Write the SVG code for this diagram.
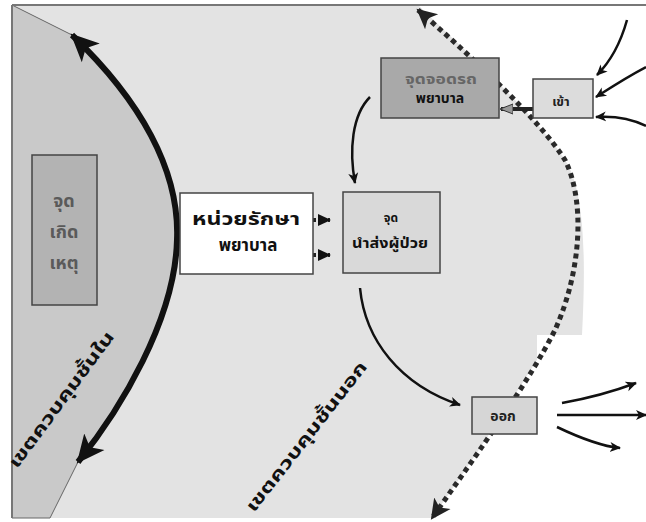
<svg xmlns="http://www.w3.org/2000/svg" width="646" height="522" viewBox="0 0 646 522">
<style>
.th{font-family:"Noto Sans Thai","Noto Sans","DejaVu Sans",sans-serif;font-weight:bold;text-anchor:middle}
.box{stroke:#444;stroke-width:1.5}
.thin{fill:none;stroke:#111;stroke-width:2.5}
.dot{fill:none;stroke:#2a2a2a;stroke-width:5;stroke-dasharray:5 4}
</style>
<defs>
<marker id="big" viewBox="0 0 30 30" refX="26" refY="15" markerWidth="30" markerHeight="30" markerUnits="userSpaceOnUse" orient="auto-start-reverse">
<path d="M0,2 L28,15 L0,28 L7,15 Z" fill="#111"/>
</marker>
<marker id="ah" viewBox="0 0 12 12" refX="10" refY="6" markerWidth="12" markerHeight="12" markerUnits="userSpaceOnUse" orient="auto">
<path d="M0,1 L11,6 L0,11 L3,6 Z" fill="#111"/>
</marker>
<marker id="dh" viewBox="0 0 22 22" refX="18" refY="11" markerWidth="22" markerHeight="22" markerUnits="userSpaceOnUse" orient="auto-start-reverse">
<path d="M0,1 L20,11 L0,21 L5,11 Z" fill="#222"/>
</marker>
<marker id="sq" viewBox="0 0 14 14" refX="12" refY="7" markerWidth="14" markerHeight="14" markerUnits="userSpaceOnUse" orient="auto">
<path d="M0,1 L13,7 L0,13 Z" fill="#111"/>
</marker>
<marker id="gh" viewBox="0 0 14 14" refX="12" refY="7" markerWidth="14" markerHeight="14" markerUnits="userSpaceOnUse" orient="auto">
<path d="M0,2 L13,7 L0,12 Z" fill="#999" stroke="#333" stroke-width="1"/>
</marker>
</defs>
<rect width="646" height="522" fill="#fff"/>
<g id="zones">
<path d="M12,5 L418,5 C470,55 540,120 565,160 C585,190 586,260 582,335 L537,335 L537,360 C515,395 480,450 432,518 L12,518 Z" fill="#e3e3e3"/>
<path d="M12,5 L72,35 C140,100 180,170 177,240 C175,320 120,410 78,462 L50,518 L12,518 Z" fill="#c9c9c9"/>
<path d="M12,5 L72,35 M78,462 L50,518 L12,518" fill="none" stroke="#666" stroke-width="1"/>
<path d="M12,5 L646,5 M12,5 L12,518" fill="none" stroke="#777" stroke-width="2"/>
</g>
<g id="connectors">
<path d="M72,35 C140,100 180,170 177,240 C175,320 120,410 78,462" fill="none" stroke="#111" stroke-width="6" marker-start="url(#big)" marker-end="url(#big)"/>
<path class="dot" d="M418,10 C470,55 540,120 565,160 C585,200 582,270 555,330 C530,380 480,450 432,518" marker-start="url(#dh)" marker-end="url(#dh)"/>
<path class="thin" d="M627,20 C620,45 610,62 597,75" marker-end="url(#ah)"/>
<path class="thin" d="M646,67 C625,78 610,88 596,97" marker-end="url(#ah)"/>
<path class="thin" d="M646,126 C630,118 612,116 596,117" marker-end="url(#ah)"/>
<path d="M533,109 L501,109" fill="none" stroke="#222" stroke-width="4" marker-end="url(#gh)"/>
<path class="thin" d="M370,97 C352,115 349,150 355,183" marker-end="url(#ah)"/>
<path class="thin" d="M360,288 C365,340 400,385 460,405" marker-end="url(#ah)"/>
<path class="thin" d="M562,403 C590,398 612,392 636,383" marker-end="url(#ah)"/>
<path class="thin" d="M557,415 L646,415" marker-end="url(#ah)"/>
<path class="thin" d="M557,427 C580,438 600,446 620,448" marker-end="url(#ah)"/>
<path d="M312,220 L330,220" fill="none" stroke="#222" stroke-width="4" stroke-dasharray="4 4" marker-end="url(#sq)"/>
<path d="M296,255 L330,255" fill="none" stroke="#222" stroke-width="4" stroke-dasharray="4 4" marker-end="url(#sq)"/>
</g>
<g id="n-incident">
<rect class="box" x="32" y="155" width="65" height="150" fill="#b3b3b3"/>
<text class="th" x="64" y="207" font-size="18" fill="#5a5a5a">จุด</text>
<text class="th" x="64" y="238" font-size="18" fill="#5a5a5a">เกิด</text>
<text class="th" x="64" y="269" font-size="18" fill="#5a5a5a">เหตุ</text>
</g>
<g id="n-medical">
<rect class="box" x="180" y="193" width="133" height="81" fill="#fff"/>
<text class="th" x="246" y="225" font-size="17" fill="#111" textLength="108" lengthAdjust="spacingAndGlyphs">หน่วยรักษา</text>
<text class="th" x="248" y="251" font-size="17" fill="#111">พยาบาล</text>
</g>
<g id="n-transport">
<rect class="box" x="343" y="192" width="97" height="81" fill="#d9d9d9"/>
<text class="th" x="391" y="222" font-size="12" fill="#111">จุด</text>
<text class="th" x="390" y="248" font-size="14" fill="#111" textLength="76" lengthAdjust="spacingAndGlyphs">นำส่งผู้ป่วย</text>
</g>
<g id="n-ambulance">
<rect class="box" x="381" y="58" width="118" height="60" fill="#a9a9a9"/>
<text class="th" x="441" y="84" font-size="14" fill="#666" textLength="72" lengthAdjust="spacingAndGlyphs">จุดจอดรถ</text>
<text class="th" x="440" y="103" font-size="14" fill="#111">พยาบาล</text>
</g>
<g id="n-in">
<rect class="box" x="533" y="79" width="60" height="39" fill="#dcdcdc"/>
<text class="th" x="561" y="106" font-size="13" fill="#222">เข้า</text>
</g>
<g id="n-out">
<rect class="box" x="472" y="397" width="65" height="37" fill="#d6d6d6"/>
<text class="th" x="503" y="421" font-size="14" fill="#222">ออก</text>
</g>
<g id="labels">
<text class="th" font-size="17" fill="#111" transform="translate(66,403) rotate(-53.5)" textLength="165" lengthAdjust="spacingAndGlyphs">เขตควบคุมชั้นใน</text>
<text class="th" font-size="17" fill="#111" transform="translate(311,440) rotate(-52)" textLength="185" lengthAdjust="spacingAndGlyphs">เขตควบคุมชั้นนอก</text>
</g>
</svg>
